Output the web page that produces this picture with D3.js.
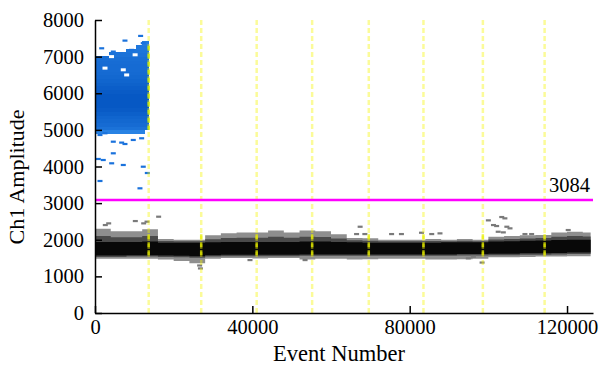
<!DOCTYPE html>
<html>
<head>
<meta charset="utf-8">
<script src="https://cdn.jsdelivr.net/npm/d3@7"></script>
<style>
  body { margin: 0; background: #fff; }
  svg { display: block; }
</style>
</head>
<body>
<svg id="chart" width="606" height="371"></svg>
<script>
// ---------------- data ----------------
const xTicks = [0, 40000, 80000, 120000];
const yTicks = [0, 1000, 2000, 3000, 4000, 5000, 6000, 7000, 8000];
const xMax = 126600;
const yMax = 8000;
const threshold = 3084;
const lastEvent = 126000;

// boundaries between wells (event number)
const wellBoundaries = [13650, 27000, 41100, 55200, 69600, 83500, 98600, 114300];

// negative droplet band, sampled every 4000 events
const bandEvents = [0, 4000, 8000, 12000, 16000, 20000, 24000, 28000, 32000, 36000,
  40000, 44000, 48000, 52000, 56000, 60000, 64000, 68000, 72000, 76000,
  80000, 84000, 88000, 92000, 96000, 100000, 104000, 108000, 112000, 116000,
  120000, 124000];
const bandHaloHigh = [2300, 2230, 2230, 2290, 2020, 2000, 2000, 2120, 2180, 2200,
  2200, 2250, 2200, 2250, 2230, 2150, 2050, 2040, 2000, 2000,
  2000, 2020, 2000, 2020, 2000, 2080, 2100, 2120, 2130, 2200,
  2220, 2200];
const bandCoreHigh = [1940, 1940, 1940, 1950, 1920, 1920, 1920, 1930, 1940, 1940,
  1940, 1940, 1940, 1950, 1950, 1940, 1930, 1920, 1920, 1920,
  1920, 1920, 1930, 1930, 1930, 1950, 1960, 1970, 1980, 1990,
  2000, 2000];
const bandCoreLow = [1570, 1570, 1580, 1580, 1570, 1560, 1550, 1580, 1590, 1590,
  1590, 1590, 1590, 1600, 1600, 1600, 1600, 1600, 1600, 1600,
  1600, 1600, 1600, 1610, 1610, 1620, 1620, 1630, 1630, 1640,
  1650, 1650];
const bandHaloLow = [1480, 1480, 1480, 1480, 1460, 1420, 1360, 1480, 1500, 1500,
  1490, 1500, 1500, 1460, 1480, 1480, 1460, 1470, 1480, 1480,
  1480, 1460, 1460, 1470, 1480, 1520, 1520, 1530, 1540, 1540,
  1550, 1550];

// positive droplet cluster, rows of 100 amplitude units
const posRowAmp = [4900, 5000, 5100, 5200, 5300, 5400, 5500, 5600, 5700, 5800,
  5900, 6000, 6100, 6200, 6300, 6400, 6500, 6600, 6700, 6800,
  6900, 7000, 7100, 7200, 7300];
const posRowStart = [0, 0, 0, 0, 0, 0, 0, 0, 0, 0,
  0, 0, 0, 0, 0, 0, 0, 0, 0, 0,
  0, 3500, 7800, 10500, 12000];
const posRowEnd = [12600, 13650, 13650, 13650, 13650, 13650, 13650, 13650, 13650, 13650,
  13650, 13650, 13650, 13650, 13650, 13650, 13650, 13650, 13650, 13650,
  13650, 13650, 13650, 13650, 13650];
const posRowDensity = [0.35, 0.6, 0.7, 0.75, 0.8, 0.88, 0.95, 1, 1, 1,
  1, 0.95, 0.9, 0.85, 0.8, 0.75, 0.72, 0.7, 0.7, 0.68,
  0.65, 0.6, 0.55, 0.5, 0.45];

// sparse positive droplets [event, amplitude]
const posOutliers = [
  [11600, 7568], [7620, 7440], [12270, 7370], [1700, 7230], [4650, 7140],
  [5500, 7095], [9300, 7186], [1270, 4863], [2540, 4910], [4650, 4680],
  [6780, 4655], [7620, 4617], [9730, 4727], [11860, 4773], [4650, 4363],
  [840, 4208], [2100, 4180], [4240, 4090], [7190, 4044], [12270, 3997],
  [1270, 3607], [11430, 3407], [13300, 3825]
];
// empty spots inside the positive cluster [event, amplitude]
const posGaps = [[2540, 6686], [7190, 6640], [8050, 6500], [4200, 7000], [10200, 7050]];

// sparse negative droplets [event, amplitude]
const negOutliers = [
  [2620, 2404], [3480, 2450], [10250, 2513], [12380, 2450], [13220, 2496],
  [16180, 2632], [67400, 2358], [66500, 2158], [68600, 2158], [75400, 2158],
  [77900, 2158], [83000, 2194], [85600, 2158], [87700, 2177], [100000, 2532],
  [103400, 2623], [104200, 2587], [101300, 2404], [102100, 2377], [104700, 2358],
  [102500, 2221], [103800, 2204], [105500, 2314], [109300, 2158], [111000, 2158],
  [120300, 2268], [96200, 1540], [39400, 1448], [53400, 1448], [94900, 1494],
  [26600, 1300], [26800, 1220], [98400, 1380]
];

// ---------------- layout ----------------
const FONT = "'Liberation Serif', 'Times New Roman', Times, serif";
const margin = { left: 95, right: 13, top: 20, bottom: 58 };
const W = 606, H = 371;
const svg = d3.select("#chart");
const x = d3.scaleLinear().domain([0, xMax]).range([margin.left, W - margin.right]);
const y = d3.scaleLinear().domain([0, yMax]).range([H - margin.bottom, margin.top]);

const plot = svg.append("g");

// ---------------- negative band ----------------
const bandPts = bandEvents.map((e, i) => ({
  e, hh: bandHaloHigh[i], ch: bandCoreHigh[i], cl: bandCoreLow[i], hl: bandHaloLow[i]
}));
bandPts.push(Object.assign({}, bandPts[bandPts.length - 1], { e: lastEvent }));

const areaGen = (lo, hi) => d3.area()
  .curve(d3.curveStepAfter)
  .x(d => x(d.e))
  .y0(d => y(lo(d)))
  .y1(d => y(hi(d)));

plot.append("path").datum(bandPts)
  .attr("fill", "#8e8e8e")
  .attr("d", areaGen(d => d.hl, d => d.hh));
plot.append("path").datum(bandPts)
  .attr("fill", "#4a4a4a")
  .attr("d", areaGen(d => d.cl - 40, d => d.ch + (d.hh - d.ch) * 0.45));
plot.append("path").datum(bandPts)
  .attr("fill", "#080808")
  .attr("d", areaGen(d => d.cl, d => d.ch));

// ---------------- positive cluster ----------------
const blueScale = d3.interpolateRgb("#3a98f5", "#0658c4");
plot.append("g")
  .attr("shape-rendering", "crispEdges")
  .selectAll("rect")
  .data(posRowAmp.map((a, i) => ({ a, s: posRowStart[i], t: posRowEnd[i], d: posRowDensity[i] })))
  .join("rect")
  .attr("x", d => Math.round(x(d.s)))
  .attr("width", d => Math.round(x(d.t)) - Math.round(x(d.s)))
  .attr("y", d => Math.floor(y(d.a + 100)))
  .attr("height", d => Math.ceil(y(d.a)) - Math.floor(y(d.a + 100)))
  .attr("fill", d => blueScale(d.d));

plot.append("g").selectAll("rect")
  .data(posGaps)
  .join("rect")
  .attr("x", d => x(d[0]) - 2.5).attr("y", d => y(d[1]) - 1.5)
  .attr("width", 5).attr("height", 3)
  .attr("fill", "#fff");

plot.append("g").selectAll("rect")
  .data(posOutliers)
  .join("rect")
  .attr("x", d => x(d[0]) - 2.5).attr("y", d => y(d[1]) - 1)
  .attr("width", 5).attr("height", 2.2)
  .attr("fill", "#1a72dc");

plot.append("g").selectAll("rect")
  .data(negOutliers)
  .join("rect")
  .attr("x", d => x(d[0]) - 2.5).attr("y", d => y(d[1]) - 1)
  .attr("width", 5).attr("height", 2.2)
  .attr("fill", "#7a7a7a");

// ---------------- well boundaries ----------------
const wells = plot.append("g");
wells.selectAll("line.faint")
  .data(wellBoundaries)
  .join("line")
  .attr("class", "faint")
  .attr("x1", d => x(d)).attr("x2", d => x(d))
  .attr("y1", y(yMax)).attr("y2", y(0))
  .attr("stroke", "#f4f400")
  .attr("stroke-opacity", 0.4)
  .attr("stroke-width", 2.5)
  .attr("stroke-dasharray", "5,3");
// brighter where the line crosses the droplet clusters
wells.selectAll("line.band")
  .data(wellBoundaries)
  .join("line")
  .attr("class", "band")
  .attr("x1", d => x(d)).attr("x2", d => x(d))
  .attr("y1", y(2150)).attr("y2", y(1500))
  .attr("stroke", "#e8f000")
  .attr("stroke-opacity", 0.75)
  .attr("stroke-width", 2.5)
  .attr("stroke-dasharray", "5,3");
wells.append("line")
  .attr("x1", x(wellBoundaries[0])).attr("x2", x(wellBoundaries[0]))
  .attr("y1", y(7300)).attr("y2", y(5000))
  .attr("stroke", "#d8f000")
  .attr("stroke-opacity", 0.8)
  .attr("stroke-width", 2.5)
  .attr("stroke-dasharray", "5,3");

// ---------------- threshold ----------------
plot.append("line")
  .attr("x1", x(0)).attr("x2", x(xMax))
  .attr("y1", y(threshold)).attr("y2", y(threshold))
  .attr("stroke", "#ff00ff")
  .attr("stroke-width", 2.5);
svg.append("text")
  .attr("x", x(xMax) - 3).attr("y", y(threshold) - 8)
  .attr("text-anchor", "end")
  .style("font-family", FONT).style("font-size", "20.5px")
  .text(threshold);

// ---------------- axes ----------------
const yAxis = svg.append("g")
  .attr("transform", `translate(${margin.left},0)`)
  .call(d3.axisLeft(y).tickValues(yTicks).tickFormat(d3.format("d"))
    .tickSize(-7).tickSizeOuter(0).tickPadding(11));
const xAxis = svg.append("g")
  .attr("transform", `translate(0,${H - margin.bottom})`)
  .call(d3.axisBottom(x).tickValues(xTicks).tickFormat(d3.format("d"))
    .tickSize(-7).tickSizeOuter(0).tickPadding(6));
[yAxis, xAxis].forEach(g => {
  g.select(".domain").attr("stroke", "#000").attr("stroke-width", 1.5);
  g.selectAll(".tick line").attr("stroke", "#000").attr("stroke-width", 1.5);
  g.selectAll(".tick text")
    .style("font-family", FONT).style("font-size", "20.5px").attr("fill", "#000");
});

svg.append("text")
  .attr("transform", "translate(24,177) rotate(-90)")
  .attr("text-anchor", "middle")
  .style("font-family", FONT).style("font-size", "22px")
  .text("Ch1 Amplitude");
svg.append("text")
  .attr("x", 339)
  .attr("y", 361)
  .attr("text-anchor", "middle")
  .style("font-family", FONT).style("font-size", "22.5px")
  .text("Event Number");
</script>
</body>
</html>
